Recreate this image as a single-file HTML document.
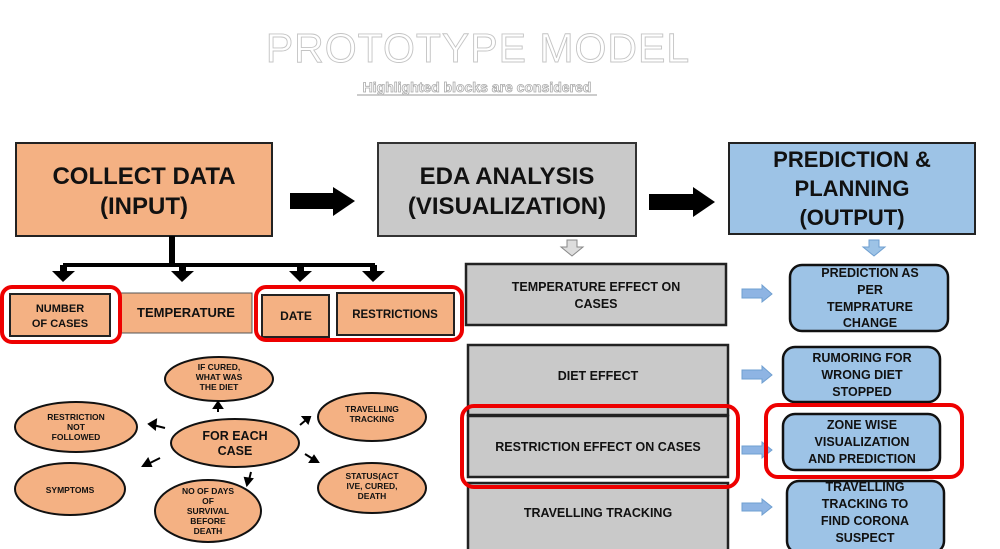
<!DOCTYPE html>
<html><head><meta charset="utf-8"><style>
html,body{margin:0;padding:0;background:#fff;width:1000px;height:549px;overflow:hidden}
svg text{font-family:"Liberation Sans",sans-serif;font-weight:bold;fill:#111;text-anchor:middle}
</style></head><body>
<svg width="1000" height="549" viewBox="0 0 1000 549" xmlns="http://www.w3.org/2000/svg">
<text x="478" y="62" style="font-size:41px;font-weight:normal;fill:#fff;stroke:#c4c4c4;stroke-width:0.9;letter-spacing:1px">PROTOTYPE MODEL</text>
<text x="477" y="92" style="font-size:14px;fill:#fff;stroke:#aaa;stroke-width:0.8">Highlighted blocks are considered</text>
<line x1="357" y1="95" x2="597" y2="95" stroke="#bbb" stroke-width="1.5"/>

<rect x="16" y="143" width="256" height="93" fill="#f4b183" stroke="#222" stroke-width="2"/>
<text x="144" y="184" style="font-size:24px">COLLECT DATA</text>
<text x="144" y="214" style="font-size:24px">(INPUT)</text>
<polygon points="290,193 333,193 333,187 355,201 333,216 333,209 290,209" fill="#000"/>
<rect x="378" y="143" width="258" height="93" fill="#c9c9c9" stroke="#333" stroke-width="2"/>
<text x="507" y="184" style="font-size:24px">EDA ANALYSIS</text>
<text x="507" y="214" style="font-size:24px">(VISUALIZATION)</text>
<polygon points="649,194 693,194 693,187 715,202 693,217 693,210 649,210" fill="#000"/>
<rect x="729" y="143" width="246" height="91" fill="#9dc3e6" stroke="#222" stroke-width="2"/>
<text x="852" y="167" style="font-size:22px">PREDICTION &amp;</text>
<text x="852" y="196" style="font-size:22px">PLANNING</text>
<text x="852" y="225" style="font-size:22px">(OUTPUT)</text>

<rect x="169" y="236" width="6" height="30" fill="#000"/>
<rect x="63" y="263" width="312" height="4" fill="#000"/>
<g fill="#000">
<rect x="60" y="265" width="7" height="7"/><polygon points="52,271 75,271 63,282"/>
<rect x="179" y="265" width="7" height="7"/><polygon points="171,271 194,271 182,282"/>
<rect x="297" y="265" width="7" height="7"/><polygon points="289,271 312,271 300,282"/>
<rect x="370" y="265" width="7" height="7"/><polygon points="362,271 385,271 373,282"/>
</g>
<rect x="10" y="294" width="100" height="42" fill="#f4b183" stroke="#222" stroke-width="2"/>
<text x="60" y="312" style="font-size:11px">NUMBER</text>
<text x="60" y="327" style="font-size:11px">OF CASES</text>
<rect x="120" y="293" width="132" height="40" fill="#f4b183" stroke="#555" stroke-width="1"/>
<text x="186" y="317" style="font-size:13px">TEMPERATURE</text>
<rect x="262" y="295" width="67" height="42" fill="#f4b183" stroke="#222" stroke-width="2"/>
<text x="296" y="320" style="font-size:12px">DATE</text>
<rect x="337" y="293" width="117" height="42" fill="#f4b183" stroke="#222" stroke-width="2"/>
<text x="395" y="318" style="font-size:11.5px">RESTRICTIONS</text>
<rect x="2" y="287" width="118" height="55" rx="10" fill="none" stroke="#e00" stroke-width="4"/>
<rect x="256" y="287" width="206" height="53" rx="10" fill="none" stroke="#e00" stroke-width="4"/>

<g fill="#f4b183" stroke="#111" stroke-width="2">
<ellipse cx="219" cy="379" rx="54" ry="22"/>
<ellipse cx="76" cy="427" rx="61" ry="25"/>
<ellipse cx="235" cy="443" rx="64" ry="24"/>
<ellipse cx="70" cy="489" rx="55" ry="26"/>
<ellipse cx="208" cy="511" rx="53" ry="31"/>
<ellipse cx="372" cy="417" rx="54" ry="24"/>
<ellipse cx="372" cy="488" rx="54" ry="25"/>
</g>
<g style="font-size:8.5px">
<text x="219" y="370">IF CURED,</text><text x="219" y="380">WHAT WAS</text><text x="219" y="390">THE DIET</text>
<text x="76" y="420">RESTRICTION</text><text x="76" y="430">NOT</text><text x="76" y="440">FOLLOWED</text>
<text x="70" y="493">SYMPTOMS</text>
<text x="208" y="494">NO OF DAYS</text><text x="208" y="504">OF</text><text x="208" y="514">SURVIVAL</text><text x="208" y="524">BEFORE</text><text x="208" y="534">DEATH</text>
<text x="372" y="412">TRAVELLING</text><text x="372" y="422">TRACKING</text>
<text x="372" y="479">STATUS(ACT</text><text x="372" y="489">IVE, CURED,</text><text x="372" y="499">DEATH</text>
</g>
<text x="235" y="440" style="font-size:12.5px">FOR EACH</text>
<text x="235" y="455" style="font-size:12.5px">CASE</text>
<g stroke="#000" stroke-width="2" fill="#000">
<line x1="218" y1="412" x2="218" y2="407"/><polygon points="214,408 222,408 218,402"/>
<line x1="165" y1="428" x2="153" y2="425"/><polygon points="149,424 156,420 155,429"/>
<line x1="160" y1="458" x2="148" y2="464"/><polygon points="143,466 148,459 151,466"/>
<line x1="251" y1="472" x2="249" y2="480"/><polygon points="247,485 245,478 252,479"/>
<line x1="300" y1="425" x2="306" y2="420"/><polygon points="310,417 303,417 308,423"/>
<line x1="305" y1="454" x2="313" y2="459"/><polygon points="318,462 310,462 314,456"/>
</g>

<polygon points="567,240 577,240 577,247 583,247 572,256 561,247 567,247" fill="#ddd" stroke="#888" stroke-width="1"/>
<polygon points="869,240 879,240 879,247 885,247 874,256 863,247 869,247" fill="#9dc3e6" stroke="#6f9fd0" stroke-width="1"/>
<rect x="466" y="264" width="260" height="61" fill="#c9c9c9" stroke="#222" stroke-width="2.5"/>
<text x="596" y="291" style="font-size:12.5px">TEMPERATURE EFFECT ON</text>
<text x="596" y="308" style="font-size:12.5px">CASES</text>
<rect x="468" y="345" width="260" height="70" fill="#c9c9c9" stroke="#222" stroke-width="2.5"/>
<text x="598" y="380" style="font-size:12.5px">DIET EFFECT</text>
<rect x="468" y="416" width="260" height="61" fill="#c9c9c9" stroke="#222" stroke-width="2.5"/>
<text x="598" y="451" style="font-size:12.5px">RESTRICTION EFFECT ON CASES</text>
<rect x="468" y="483" width="260" height="70" fill="#c9c9c9" stroke="#222" stroke-width="2.5"/>
<text x="598" y="517" style="font-size:12.5px">TRAVELLING TRACKING</text>
<rect x="462" y="406" width="276" height="81" rx="12" fill="none" stroke="#e00" stroke-width="4"/>

<g fill="#8eb4e3" stroke="#6f9fd0" stroke-width="1">
<polygon points="742,289 762,289 762,285 772,294 762,302 762,298 742,298"/>
<polygon points="742,370 762,370 762,366 772,375 762,383 762,379 742,379"/>
<polygon points="742,446 762,446 762,442 772,450 762,458 762,454 742,454"/>
<polygon points="742,503 762,503 762,499 772,507 762,515 762,511 742,511"/>
</g>

<g fill="#9dc3e6" stroke="#111" stroke-width="2.5">
<rect x="790" y="265" width="158" height="66" rx="12"/>
<rect x="783" y="347" width="157" height="55" rx="12"/>
<rect x="783" y="414" width="157" height="56" rx="12"/>
<rect x="787" y="481" width="157" height="72" rx="12"/>
</g>
<g style="font-size:12.5px">
<text x="870" y="277">PREDICTION AS</text><text x="870" y="294">PER</text><text x="870" y="311">TEMPRATURE</text><text x="870" y="327">CHANGE</text>
<text x="862" y="362">RUMORING FOR</text><text x="862" y="379">WRONG DIET</text><text x="862" y="396">STOPPED</text>
<text x="862" y="429">ZONE WISE</text><text x="862" y="446">VISUALIZATION</text><text x="862" y="463">AND PREDICTION</text>
<text x="865" y="491">TRAVELLING</text><text x="865" y="508">TRACKING TO</text><text x="865" y="525">FIND CORONA</text><text x="865" y="542">SUSPECT</text>
</g>
<rect x="766" y="405" width="196" height="72" rx="12" fill="none" stroke="#e00" stroke-width="4"/>
</svg>
</body></html>
